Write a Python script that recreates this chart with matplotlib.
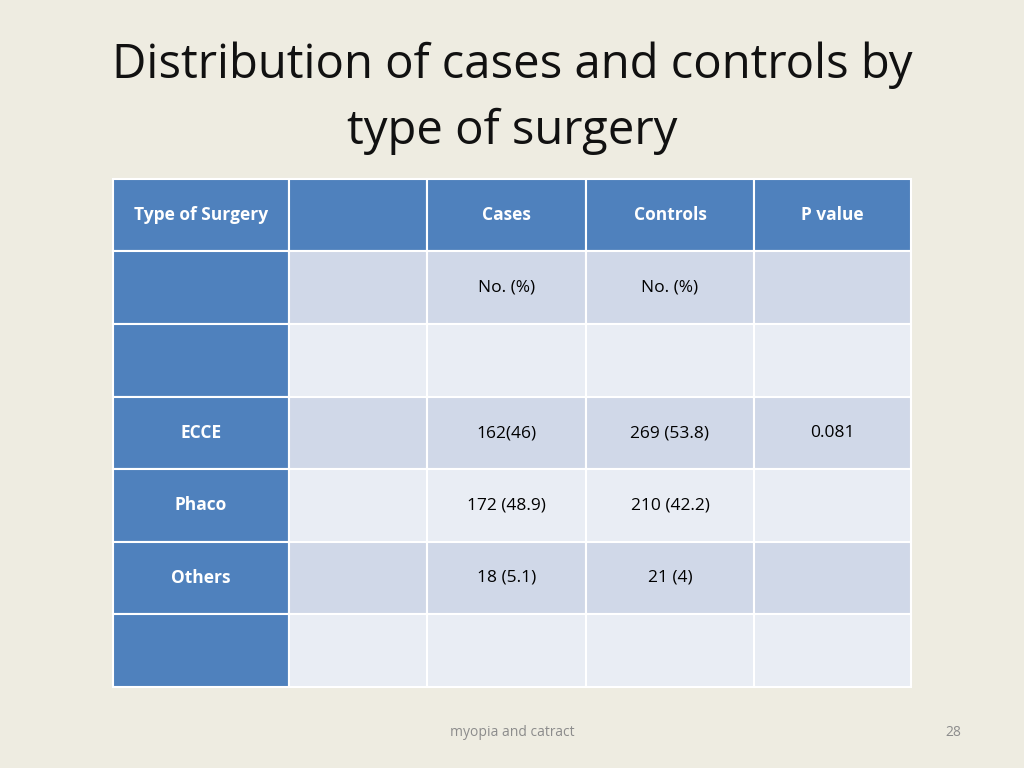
import matplotlib.pyplot as plt
from matplotlib.patches import Rectangle

# table content
header = ["Type of Surgery", "", "Cases", "Controls", "P value"]
row_labels = ["", "", "ECCE", "Phaco", "Others", ""]
cases = ["No. (%)", "", "162(46)", "172 (48.9)", "18 (5.1)", ""]
controls = ["No. (%)", "", "269 (53.8)", "210 (42.2)", "21 (4)", ""]
p_values = ["", "", "0.081", "", "", ""]

col_edges = [113, 289, 427, 586, 754, 911]
row_edges = [179, 251, 324, 397, 469, 542, 614, 687]

blue = "#4F81BD"
band_dark = "#D0D8E8"
band_light = "#E9EDF4"
font = "Open Sans"

fig = plt.figure(figsize=(10.24, 7.68), dpi=100)
fig.patch.set_facecolor("#EEECE1")
ax = fig.add_axes([0, 0, 1, 1])
ax.set_xlim(0, 1024)
ax.set_ylim(768, 0)
ax.axis("off")

ax.text(512, 65, "Distribution of cases and controls by", ha="center", va="center",
        fontsize=34, family=font, color="#111111")
ax.text(512, 131, "type of surgery", ha="center", va="center",
        fontsize=34, family=font, color="#111111")

body = [[row_labels[i], "", cases[i], controls[i], p_values[i]] for i in range(len(row_labels))]
rows = [header] + body

for r, row in enumerate(rows):
    y0, y1 = row_edges[r], row_edges[r + 1]
    for c, txt in enumerate(row):
        x0, x1 = col_edges[c], col_edges[c + 1]
        if r == 0 or c == 0:
            fc, tc, fw = blue, "white", "bold"
        else:
            fc = band_dark if r % 2 == 1 else band_light
            tc, fw = "black", "normal"
        ax.add_patch(Rectangle((x0, y0), x1 - x0, y1 - y0, facecolor=fc,
                               edgecolor="white", linewidth=1.5))
        if txt:
            ax.text((x0 + x1) / 2, (y0 + y1) / 2, txt, ha="center", va="center",
                    fontsize=12.5, family=font, color=tc, fontweight=fw)

ax.text(512, 733, "myopia and catract", ha="center", va="center",
        fontsize=10, family=font, color="#8C8C8C")
ax.text(953, 733, "28", ha="center", va="center",
        fontsize=10, family=font, color="#8C8C8C")

fig.savefig("out.png", dpi=100, facecolor=fig.get_facecolor())
